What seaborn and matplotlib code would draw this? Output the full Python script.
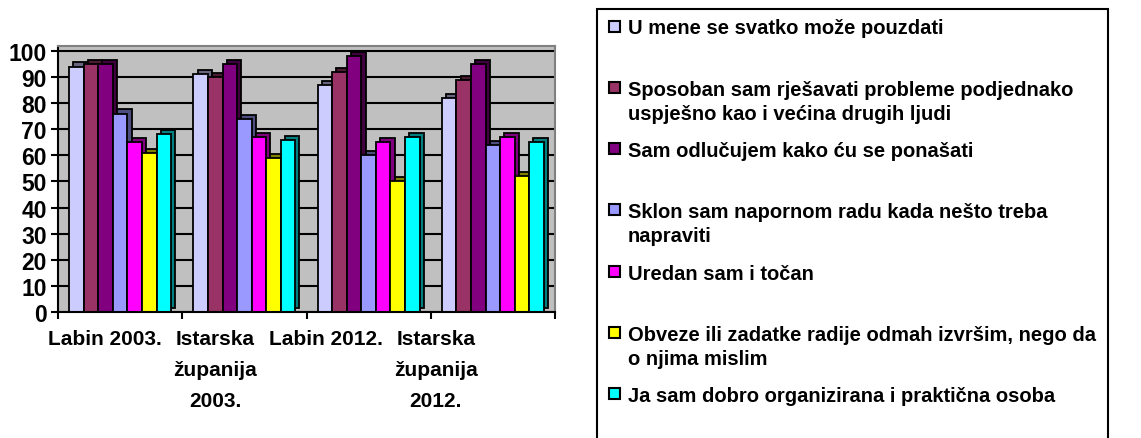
import matplotlib
matplotlib.use("Agg")
import matplotlib.pyplot as plt
import matplotlib.patheffects as pe
from matplotlib.patches import Rectangle
import seaborn as sns
import pandas as pd

groups = ["Labin 2003.", "Istarska\nžupanija\n2003.", "Labin 2012.", "Istarska\nžupanija\n2012."]
statements = [
    "U mene se svatko može pouzdati",
    "Sposoban sam rješavati probleme podjednako\nuspješno kao i većina drugih ljudi",
    "Sam odlučujem kako ću se ponašati",
    "Sklon sam napornom radu kada nešto treba\nnapraviti",
    "Uredan sam i točan",
    "Obveze ili zadatke radije odmah izvršim, nego da\no njima mislim",
    "Ja sam dobro organizirana i praktična osoba",
]
colors = ["#CCCCFF", "#993366", "#800080", "#9999FF", "#FF00FF", "#FFFF00", "#00FFFF"]

u_mene = [94, 91, 87, 82]
sposoban = [95, 90, 92, 89]
sam_odlucujem = [95, 95, 98, 95]
sklon = [76, 74, 60, 64]
uredan = [65, 67, 65, 67]
obveze = [61, 59, 50, 52]
organizirana = [68, 66, 67, 65]
series = [u_mene, sposoban, sam_odlucujem, sklon, uredan, obveze, organizirana]

rows = []
for s, vals in zip(statements, series):
    for g, v in zip(groups, vals):
        rows.append({"grupa": g, "tvrdnja": s, "postotak": v})
df = pd.DataFrame(rows)

sns.set_style("white")
plt.rcParams["font.family"] = ["Liberation Sans", "DejaVu Sans"]
plt.rcParams["font.weight"] = "bold"
plt.rcParams["text.color"] = "black"
plt.rcParams["xtick.color"] = "black"
plt.rcParams["ytick.color"] = "black"

W, H = 1141, 439
fig = plt.figure(figsize=(W / 100, H / 100), dpi=100)
ax = fig.add_axes([58 / W, 1 - 313 / H, 497 / W, 266 / H])
ax.set_facecolor("#C0C0C0")
ax.set_axisbelow(True)

sns.barplot(data=df, x="grupa", y="postotak", hue="tvrdnja", order=groups,
            hue_order=statements, palette=colors, saturation=1, width=0.82,
            gap=0, edgecolor="black", linewidth=1.3, legend=False, ax=ax)

for p in ax.patches:
    p.set_path_effects([
        pe.SimplePatchShadow(offset=(3, 3), rho=0.5, alpha=1.0,
                             foreground="black", linewidth=1.3),
        pe.Normal(),
    ])

ax.set_ylim(0, 101.9)
ax.set_xlim(-0.5, 3.5)
ax.set_yticks(range(0, 101, 10))
ax.yaxis.grid(True, color="black", linewidth=1.5)
ax.xaxis.grid(False)
ax.set_xlabel("")
ax.set_ylabel("")

for side in ["left", "bottom"]:
    ax.spines[side].set_color("black")
    ax.spines[side].set_linewidth(1.5)
for side in ["top", "right"]:
    ax.spines[side].set_color("#808080")
    ax.spines[side].set_linewidth(1.5)

ax.tick_params(axis="y", which="major", left=True, length=5, width=1.5,
               pad=3, labelsize=16.5, labelcolor="black")
for lbl in ax.get_yticklabels():
    lbl.set_fontweight("bold")

label_pos = [i * 0.887 - 0.121 for i in range(len(groups))]
ax.set_xticks(label_pos)
ax.set_xticklabels(groups, fontsize=15, fontweight="bold", linespacing=1.8,
                   va="top", color="black")
ax.tick_params(axis="x", which="major", length=0, pad=12)
ax.set_xticks([i - 0.5 for i in range(len(groups) + 1)], minor=True)
ax.tick_params(axis="x", which="minor", bottom=True, length=5, width=1.5,
               color="black")

# legend box
fig.add_artist(Rectangle((597 / W, -0.05), (1108 - 597) / W, 1.05 - 10 / H,
                         transform=fig.transFigure, facecolor="none",
                         edgecolor="black", linewidth=1.5))
step = 61.3
line_gap = 24
for i, (s, c) in enumerate(zip(statements, colors)):
    y0 = 27 + i * step
    fig.add_artist(Rectangle((609 / W, 1 - (y0 + 5.5) / H), 11 / W, 11 / H,
                             transform=fig.transFigure, facecolor=c,
                             edgecolor="black", linewidth=1.5))
    for k, line in enumerate(s.split("\n")):
        fig.text(628 / W, 1 - (y0 + k * line_gap) / H, line, fontsize=14.5,
                 fontweight="bold", va="center_baseline", ha="left")

fig.savefig("out.png", dpi=100)
